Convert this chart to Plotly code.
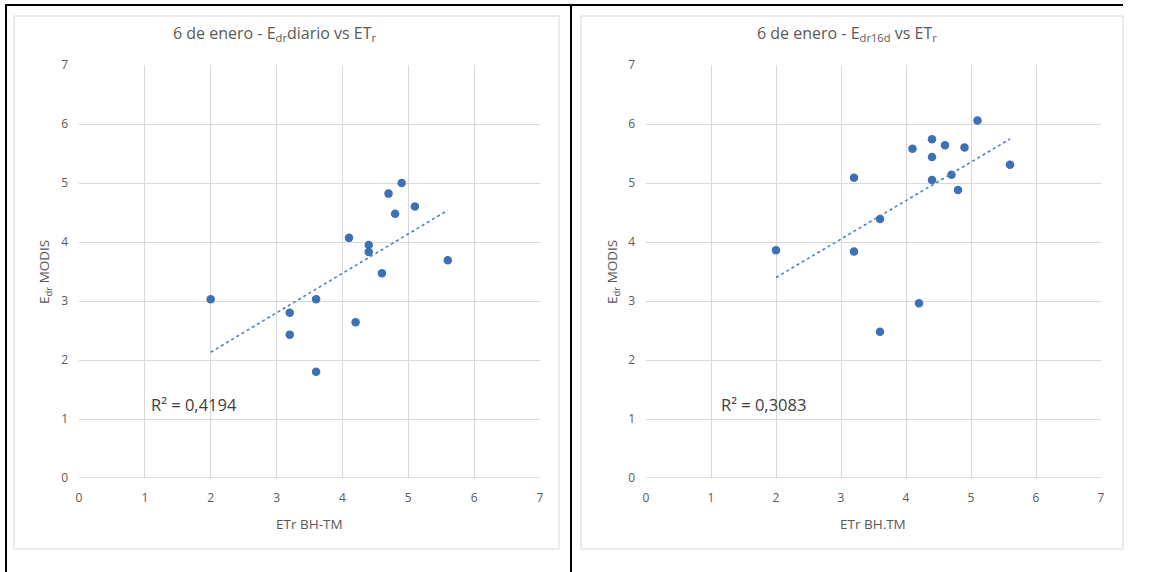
import numpy as np
import plotly.graph_objects as go

# ---- data ----
etr_left = [2.0, 3.2, 3.2, 3.6, 3.6, 4.2, 4.1, 4.4, 4.4, 4.6, 4.7, 4.8, 4.9, 5.1, 5.6]
edr_diario = [3.03, 2.80, 2.43, 3.03, 1.80, 2.64, 4.07, 3.95, 3.83, 3.47, 4.82, 4.48, 5.00, 4.60, 3.69]

etr_right = [2.0, 3.2, 3.2, 3.6, 3.6, 4.2, 4.1, 4.4, 4.4, 4.4, 4.6, 4.7, 4.8, 4.9, 5.1, 5.6]
edr_16d = [3.86, 5.09, 3.84, 4.39, 2.48, 2.96, 5.58, 5.74, 5.44, 5.05, 5.64, 5.14, 4.88, 5.60, 6.06, 5.31]

r2_left_label = "R² = 0,4194"
r2_right_label = "R² = 0,3083"
title_left = "6 de enero - E<sub>dr</sub>diario vs ET<sub>r</sub>"
title_right = "6 de enero - E<sub>dr16d</sub> vs ET<sub>r</sub>"
xlab_left = "ETr BH-TM"
xlab_right = "ETr BH.TM"
ylab = "E<sub>dr</sub> MODIS"
ticks = [0, 1, 2, 3, 4, 5, 6, 7]

W, H = 1159, 572
FONT = "Open Sans, Noto Sans, sans-serif"
GREY = "#595959"
DOT = "#3E70B5"


def px(x):
    return x / W


def py(y):
    return 1 - y / H


fig = go.Figure()


def add_panel(xs, ys, xa, ya):
    fig.add_trace(go.Scatter(x=xs, y=ys, mode="markers", xaxis=xa, yaxis=ya,
                             marker=dict(color=DOT, size=8.5), showlegend=False,
                             hoverinfo="x+y"))
    k, b = np.polyfit(xs, ys, 1)
    lx = [min(xs), max(xs)]
    fig.add_trace(go.Scatter(x=lx, y=[k * v + b for v in lx], mode="lines",
                             xaxis=xa, yaxis=ya,
                             line=dict(color="#4F7FC0", width=1.6, dash="dot"),
                             showlegend=False, hoverinfo="skip"))


add_panel(etr_left, edr_diario, "x", "y")
add_panel(etr_right, edr_16d, "x2", "y2")

axis_common = dict(range=[0, 7], tickvals=ticks, showgrid=True, gridcolor="#D9D9D9",
                   gridwidth=1, zeroline=False, showline=False, automargin=False,
                   tickfont=dict(family=FONT, size=12, color=GREY), fixedrange=True)

ydom = [py(478), py(65)]
fig.update_layout(
    width=W, height=H, margin=dict(l=0, r=0, t=0, b=0, pad=0, autoexpand=False),
    paper_bgcolor="white", plot_bgcolor="white", showlegend=False,
    xaxis=dict(domain=[px(79), px(540)], anchor="y", ticklabelstandoff=11, **axis_common),
    yaxis=dict(domain=ydom, anchor="x", ticklabelstandoff=10, **axis_common),
    xaxis2=dict(domain=[px(646), px(1101)], anchor="y2", ticklabelstandoff=11, **axis_common),
    yaxis2=dict(domain=ydom, anchor="x2", ticklabelstandoff=10, **axis_common),
)

shapes = []
# chart cards
for x0, x1 in [(14, 559), (581, 1123)]:
    shapes.append(dict(type="rect", xref="paper", yref="paper", x0=px(x0), x1=px(x1),
                       y0=py(549), y1=py(16), line=dict(color="#D9D9D9", width=1),
                       layer="below"))
# bottom axis lines (darker)
for xr, yr in [("x", "y"), ("x2", "y2")]:
    shapes.append(dict(type="line", xref=xr, yref=yr, x0=0, x1=7, y0=0, y1=0,
                       line=dict(color="#BFBFBF", width=1.2)))
# document table borders
shapes.append(dict(type="line", xref="paper", yref="paper", x0=px(5), x1=px(1123),
                   y0=py(5), y1=py(5), line=dict(color="black", width=2)))
shapes.append(dict(type="line", xref="paper", yref="paper", x0=px(6), x1=px(6),
                   y0=py(5), y1=0, line=dict(color="black", width=2)))
shapes.append(dict(type="line", xref="paper", yref="paper", x0=px(571), x1=px(571),
                   y0=py(5), y1=0, line=dict(color="black", width=2)))
fig.update_layout(shapes=shapes)

ann = []
for cx, t in [(275, title_left), (847, title_right)]:
    ann.append(dict(text=t, xref="paper", yref="paper", x=px(cx), y=py(33),
                    showarrow=False, xanchor="center", yanchor="middle",
                    font=dict(family=FONT, size=16, color=GREY)))
for cx, t in [(309, xlab_left), (873, xlab_right)]:
    ann.append(dict(text=t, xref="paper", yref="paper", x=px(cx), y=py(524),
                    showarrow=False, xanchor="center", yanchor="middle",
                    font=dict(family=FONT, size=13.5, color=GREY)))
for cx in [45, 613]:
    ann.append(dict(text=ylab, xref="paper", yref="paper", x=px(cx), y=py(272),
                    showarrow=False, xanchor="center", yanchor="middle", textangle=-90,
                    font=dict(family=FONT, size=13.5, color=GREY)))
for xr, yr, xv, t in [("x", "y", 1.75, r2_left_label), ("x2", "y2", 1.8, r2_right_label)]:
    ann.append(dict(text=t, xref=xr, yref=yr, x=xv, y=1.25, showarrow=False,
                    xanchor="center", yanchor="middle",
                    font=dict(family=FONT, size=16.5, color="#404040")))
fig.update_layout(annotations=ann)

post = (
    "document.documentElement.style.margin='0';"
    "document.documentElement.style.padding='0';"
    "document.body.style.margin='0';document.body.style.padding='0';"
    "document.body.style.overflow='hidden';"
    "var d=document.getElementById('{plot_id}');"
    "d.style.position='fixed';d.style.left='0px';d.style.top='0px';"
)
fig.write_html("out.html", post_script=post, config={"displayModeBar": False})
